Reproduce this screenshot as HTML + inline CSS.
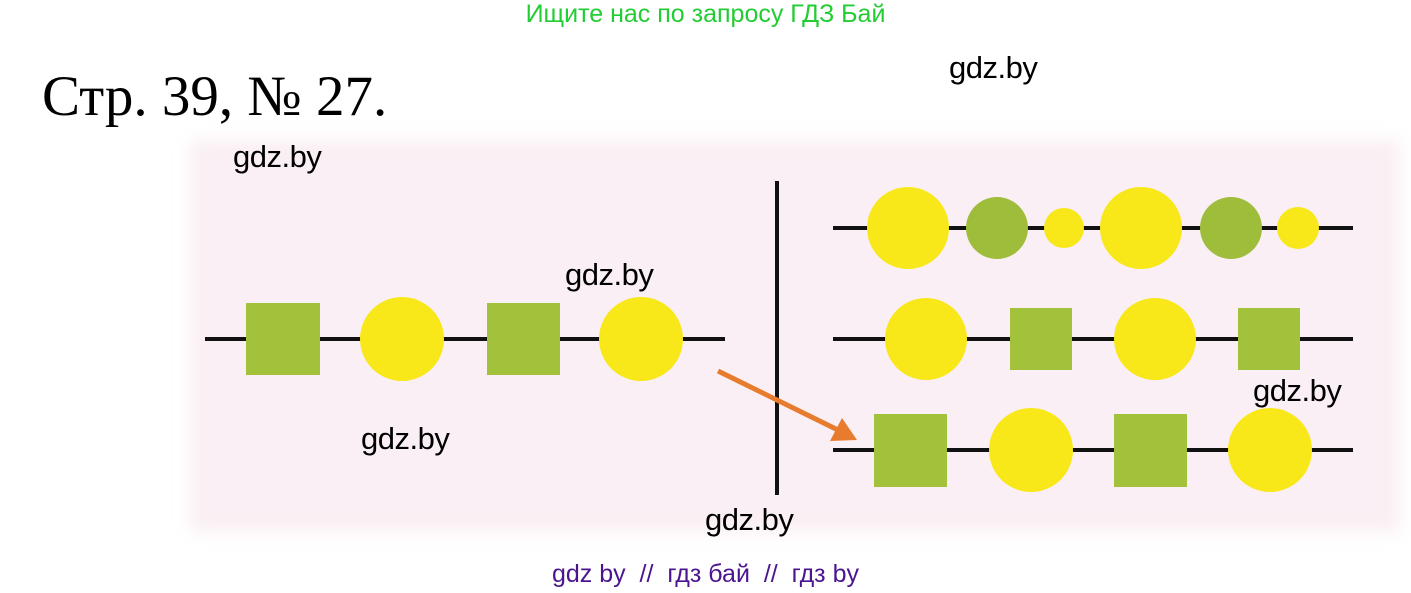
<!DOCTYPE html>
<html><head><meta charset="utf-8"><style>
body{margin:0;width:1411px;height:593px;background:#fff;position:relative;overflow:hidden;font-family:"Liberation Sans",sans-serif}
.t{position:absolute;white-space:nowrap}
.g{font-size:31px;color:#000;letter-spacing:-0.5px}
</style></head><body>
<div style="position:absolute;left:190px;top:140px;width:1210px;height:392px;background:#faeff4;filter:blur(8px)"></div>
<svg width="1411" height="593" style="position:absolute;left:0;top:0">
<g stroke="#111" stroke-width="4">
<line x1="205" y1="339" x2="725" y2="339"/>
<line x1="777" y1="181" x2="777" y2="495"/>
<line x1="833" y1="228" x2="1353" y2="228"/>
<line x1="833" y1="339" x2="1353" y2="339"/>
<line x1="833" y1="450" x2="1353" y2="450"/>
</g>
<g fill="#a3c23c">
<rect x="246" y="303" width="74" height="72"/>
<rect x="487" y="303" width="73" height="72"/>
<rect x="1010" y="308" width="62" height="62"/>
<rect x="1238" y="308" width="62" height="62"/>
<rect x="874" y="414" width="73" height="73"/>
<rect x="1114" y="414" width="73" height="73"/>
<ellipse cx="997" cy="228" rx="31" ry="31" fill="#9ebd3a"/>
<ellipse cx="1231" cy="228" rx="31" ry="31" fill="#9ebd3a"/>
</g>
<g fill="#f8e81a">
<ellipse cx="402" cy="339" rx="42" ry="42"/>
<ellipse cx="641" cy="339" rx="42" ry="42"/>
<ellipse cx="908" cy="228" rx="41" ry="41"/>
<ellipse cx="1064" cy="228" rx="20" ry="20"/>
<ellipse cx="1141" cy="228" rx="41" ry="41"/>
<ellipse cx="1298" cy="228" rx="21" ry="21"/>
<ellipse cx="926" cy="339" rx="41" ry="41"/>
<ellipse cx="1155" cy="339" rx="41" ry="41"/>
<ellipse cx="1031" cy="450" rx="42" ry="42"/>
<ellipse cx="1270" cy="450" rx="42" ry="42"/>
</g>
<line x1="718" y1="371" x2="842" y2="432" stroke="#e87c2e" stroke-width="5"/>
<polygon points="857,440 830,441 842,418" fill="#e87c2e"/>
</svg>
<div class="t" style="left:0;width:1411px;text-align:center;top:0px;font-size:25px;color:#22cc33">Ищите нас по запросу ГДЗ Бай</div>
<div class="t" style="left:42px;top:64px;font-family:'Liberation Serif',serif;font-size:57px;color:#000">Стр. 39, № 27.</div>
<div class="t g" style="left:949px;top:50px">gdz.by</div>
<div class="t g" style="left:233px;top:139px">gdz.by</div>
<div class="t g" style="left:565px;top:257px">gdz.by</div>
<div class="t g" style="left:361px;top:421px">gdz.by</div>
<div class="t g" style="left:1253px;top:373px">gdz.by</div>
<div class="t g" style="left:705px;top:502px">gdz.by</div>
<div class="t" style="left:0;width:1411px;text-align:center;top:560px;font-size:25px;color:#4b1490">gdz by &nbsp;// &nbsp;гдз бай &nbsp;// &nbsp;гдз by</div>
</body></html>
